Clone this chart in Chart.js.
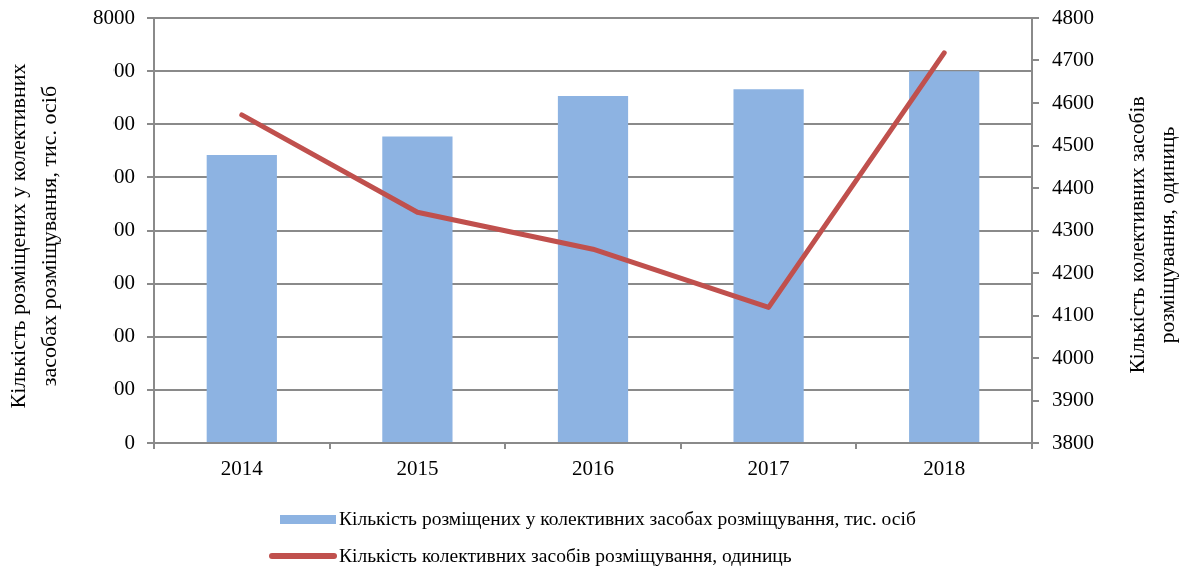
<!DOCTYPE html>
<html>
<head>
<meta charset="utf-8">
<script src="https://cdn.jsdelivr.net/npm/chart.js@4"></script>
<style>
  html, body { margin: 0; padding: 0; background: #fff; }
  #wrap { width: 1182px; height: 569px; }
</style>
</head>
<body>
<div id="wrap"><canvas id="chart" width="1182" height="569"></canvas></div>
<script>
const years = ['2014', '2015', '2016', '2017', '2018'];
const guests = [5420, 5770, 6530, 6660, 7000];
const facilities = [4572, 4343, 4256, 4119, 4718];

const guestsLabel = 'Кількість розміщених у колективних засобах розміщування, тис. осіб';
const facilitiesLabel = 'Кількість колективних засобів розміщування, одиниць';
const leftTitle = ['Кількість розміщених у колективних', 'засобах розміщування, тис. осіб'];
const rightTitle = ['Кількість колективних засобів', 'розміщування, одиниць'];

const font = 'Liberation Serif';
const gridColor = '#8a8a8a';

// titles drawn on top of tick labels (as in the original), plus a custom legend
const decor = {
    id: 'decor',
    afterDraw(chart) {
        const c = chart.ctx;
        c.save();
        // left title with white background covering part of the tick labels
        c.fillStyle = '#fff';
        c.fillRect(0, 45, 113, 380);
        c.fillStyle = '#000';
        c.font = '22px "' + font + '"';
        c.textAlign = 'center';
        c.textBaseline = 'middle';
        c.save();
        c.translate(19, 236);
        c.rotate(-Math.PI / 2);
        c.fillText(leftTitle[0], 0, 0);
        c.fillText(leftTitle[1], 0, 31);
        c.restore();
        // right title
        c.font = '21.5px "' + font + '"';
        c.save();
        c.translate(1138, 235);
        c.rotate(-Math.PI / 2);
        c.fillText(rightTitle[0], 0, 0);
        c.fillText(rightTitle[1], 0, 30);
        c.restore();

        // legend
        c.font = '19.5px "' + font + '"';
        c.textAlign = 'left';
        c.fillStyle = chart.data.datasets[1].backgroundColor;
        c.fillRect(280, 515, 56, 9);
        c.fillStyle = '#000';
        c.fillText(guestsLabel, 339, 520);
        c.strokeStyle = chart.data.datasets[0].borderColor;
        c.lineWidth = 6;
        c.lineCap = 'round';
        c.beginPath();
        c.moveTo(272, 556);
        c.lineTo(334, 556);
        c.stroke();
        c.fillText(facilitiesLabel, 339, 557);
        c.restore();
    }
};

const plain = v => String(v);
const noPad = s => { s.paddingTop = 0; s.paddingBottom = 0; };

new Chart(document.getElementById('chart'), {
    data: {
        labels: years,
        datasets: [
            {
                type: 'line',
                label: facilitiesLabel,
                data: facilities,
                yAxisID: 'y1',
                borderColor: '#c0504d',
                backgroundColor: '#c0504d',
                borderWidth: 5,
                pointRadius: 0,
                borderCapStyle: 'round',
                borderJoinStyle: 'round',
                tension: 0,
                order: 1
            },
            {
                type: 'bar',
                label: guestsLabel,
                data: guests,
                yAxisID: 'y',
                backgroundColor: '#8db3e2',
                borderWidth: 0,
                categoryPercentage: 1,
                barPercentage: 0.4,
                order: 2
            }
        ]
    },
    options: {
        responsive: false,
        animation: false,
        layout: { padding: { top: 18, bottom: 0, left: 0, right: 0 } },
        plugins: {
            legend: { display: false },
            tooltip: { enabled: false }
        },
        scales: {
            x: {
                afterFit: s => { s.height = 126; s.paddingLeft = 0; s.paddingRight = 0; },
                grid: { display: true, drawOnChartArea: false, color: gridColor, lineWidth: 2, tickLength: 6, offset: true },
                border: { color: gridColor, width: 2 },
                ticks: { color: '#000', padding: 8, font: { family: font, size: 21 } }
            },
            y: {
                position: 'left',
                min: 0,
                max: 8000,
                afterFit: s => { s.width = 154; noPad(s); },
                ticks: { stepSize: 1000, color: '#000', padding: 12, callback: plain, font: { family: font, size: 21 } },
                grid: { color: gridColor, lineWidth: 2, tickLength: 7 },
                border: { color: gridColor, width: 2 }
            },
            y1: {
                position: 'right',
                min: 3800,
                max: 4800,
                afterFit: s => { s.width = 150; noPad(s); },
                ticks: { stepSize: 100, color: '#000', padding: 13, callback: plain, font: { family: font, size: 21 } },
                grid: { drawOnChartArea: false, color: gridColor, lineWidth: 2, tickLength: 7 },
                border: { color: gridColor, width: 2 }
            }
        }
    },
    plugins: [decor]
});
</script>
</body>
</html>
